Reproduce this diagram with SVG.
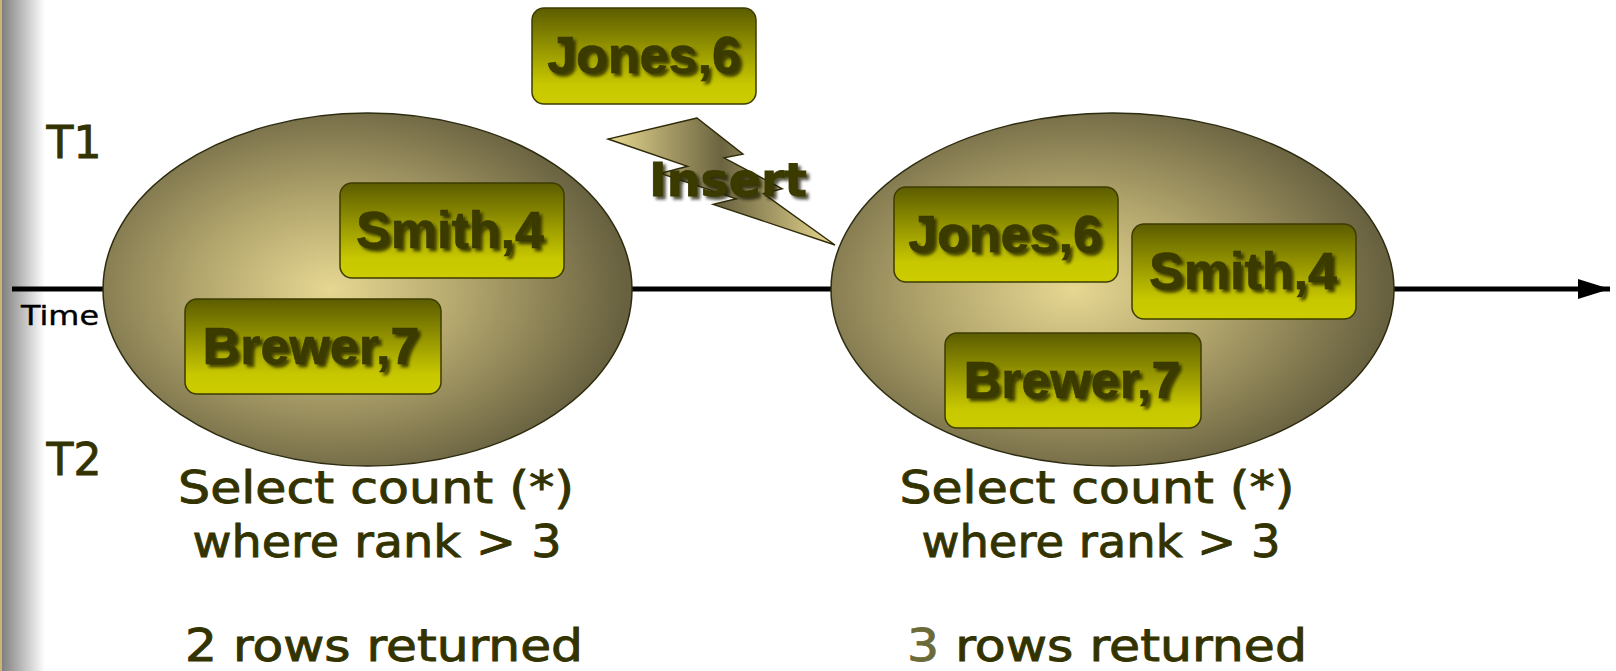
<svg xmlns="http://www.w3.org/2000/svg" width="1616" height="671" viewBox="0 0 1616 671">
<defs>
<linearGradient id="sidebar" x1="0" y1="0" x2="1" y2="0">
<stop offset="0" stop-color="#7a7a7a"/>
<stop offset="1" stop-color="#ffffff"/>
</linearGradient>
<radialGradient id="oval" cx="0.43" cy="0.5" r="0.56">
<stop offset="0" stop-color="#e6d792"/>
<stop offset="0.45" stop-color="#b3a66d"/>
<stop offset="1" stop-color="#686140"/>
</radialGradient>
<linearGradient id="box" x1="0" y1="0" x2="0" y2="1">
<stop offset="0" stop-color="#5c5c00"/>
<stop offset="0.8" stop-color="#c8c800"/>
<stop offset="1" stop-color="#cccc00"/>
</linearGradient>
<linearGradient id="bolt" gradientUnits="userSpaceOnUse" x1="608" y1="0" x2="835" y2="0">
<stop offset="0" stop-color="#e8d890"/>
<stop offset="0.5" stop-color="#6b6440"/>
<stop offset="1" stop-color="#e8d890"/>
</linearGradient>
<filter id="shadow" x="-10%" y="-20%" width="130%" height="150%">
<feDropShadow dx="3" dy="3" stdDeviation="1.6" flood-color="#1a1a00" flood-opacity="0.75"/>
</filter>
<marker id="arrow" markerUnits="userSpaceOnUse" markerWidth="34" markerHeight="22" refX="32" refY="11" orient="auto">
<polygon points="0,1 32,11 0,21" fill="#000"/>
</marker>
</defs>
<style>
.oval { fill: url(#oval); stroke: #2e2c10; stroke-width: 1.5; }
.box { fill: url(#box); stroke: #3c3c00; stroke-width: 1.5; }
.btxt { font-family: "Liberation Sans", Arial, sans-serif; font-weight: bold; font-size: 52px; fill: #3a3a00; stroke: #3a3a00; stroke-width: 0.6; text-anchor: middle; filter: url(#shadow); }
.hand { font-family: "Comic Sans MS", "DejaVu Sans", sans-serif; fill: #333300; stroke: #333300; stroke-width: 0.9; }
.sel { font-size: 44px; text-anchor: middle; }
</style>
<rect x="0" y="0" width="1616" height="671" fill="#ffffff"/>
<rect x="0" y="0" width="45" height="671" fill="url(#sidebar)"/>
<rect x="0" y="0" width="2" height="671" fill="#cbb574"/>

<g id="connectors">
<line x1="12" y1="289" x2="1610" y2="289" stroke="#000" stroke-width="5" marker-end="url(#arrow)"/>
</g>

<g id="label-T1"><text class="hand" x="74" y="158" font-size="44" text-anchor="middle">T1</text></g>
<g id="label-T2"><text class="hand" x="74" y="475" font-size="44" text-anchor="middle">T2</text></g>
<g id="label-time"><text x="60" y="325" font-family="'Comic Sans MS', 'DejaVu Sans', sans-serif" font-size="27" fill="#000" stroke="#000" stroke-width="0.4" text-anchor="middle" textLength="78" lengthAdjust="spacingAndGlyphs">Time</text></g>

<g id="before-set">
<ellipse class="oval" cx="367.5" cy="289.5" rx="264.5" ry="176.5"/>
</g>
<g id="after-set">
<ellipse class="oval" cx="1112.5" cy="289.5" rx="281.5" ry="176.5"/>
</g>

<g id="insert-bolt">
<polygon points="697,118 608,139 687.6,166.3 660.5,173.4 736.3,198.8 713.1,204.3 835,245 763.4,193.6 782.2,188.8 724,157.9 743,154.1" fill="url(#bolt)" stroke="#2e2a08" stroke-width="1.4"/>
<text x="728" y="196" font-family="'Comic Sans MS', 'DejaVu Sans', sans-serif" font-weight="bold" font-size="46" fill="#3a3a00" stroke="#3a3a00" stroke-width="0.8" text-anchor="middle" textLength="158" lengthAdjust="spacingAndGlyphs" filter="url(#shadow)">Insert</text>
</g>

<g id="jones-new">
<rect class="box" x="532" y="8" width="224" height="96" rx="12"/>
<text class="btxt" x="644" y="73">Jones,6</text>
</g>
<g id="smith-before">
<rect class="box" x="340" y="183" width="224" height="95" rx="12"/>
<text class="btxt" x="450" y="248">Smith,4</text>
</g>
<g id="brewer-before">
<rect class="box" x="185" y="299" width="256" height="95" rx="12"/>
<text class="btxt" x="311" y="364">Brewer,7</text>
</g>
<g id="jones-after">
<rect class="box" x="894" y="187" width="224" height="95" rx="12"/>
<text class="btxt" x="1005" y="252">Jones,6</text>
</g>
<g id="smith-after">
<rect class="box" x="1132" y="224" width="224" height="95" rx="12"/>
<text class="btxt" x="1243" y="289">Smith,4</text>
</g>
<g id="brewer-after">
<rect class="box" x="945" y="333" width="256" height="95" rx="12"/>
<text class="btxt" x="1072" y="398">Brewer,7</text>
</g>

<g id="query-before">
<text class="hand sel" x="376" y="503" textLength="396" lengthAdjust="spacingAndGlyphs">Select count (*)</text>
<text class="hand sel" x="377" y="557" textLength="369" lengthAdjust="spacingAndGlyphs">where rank &gt; 3</text>
<text class="hand sel" x="384" y="661" textLength="398" lengthAdjust="spacingAndGlyphs">2 rows returned</text>
</g>
<g id="query-after">
<text class="hand sel" x="1097" y="503" textLength="395" lengthAdjust="spacingAndGlyphs">Select count (*)</text>
<text class="hand sel" x="1101" y="557" textLength="359" lengthAdjust="spacingAndGlyphs">where rank &gt; 3</text>
<text class="hand sel" x="1107" y="661" textLength="400" lengthAdjust="spacingAndGlyphs"><tspan fill="#6b6b3a" stroke="#6b6b3a">3</tspan> rows returned</text>
</g>
</svg>
